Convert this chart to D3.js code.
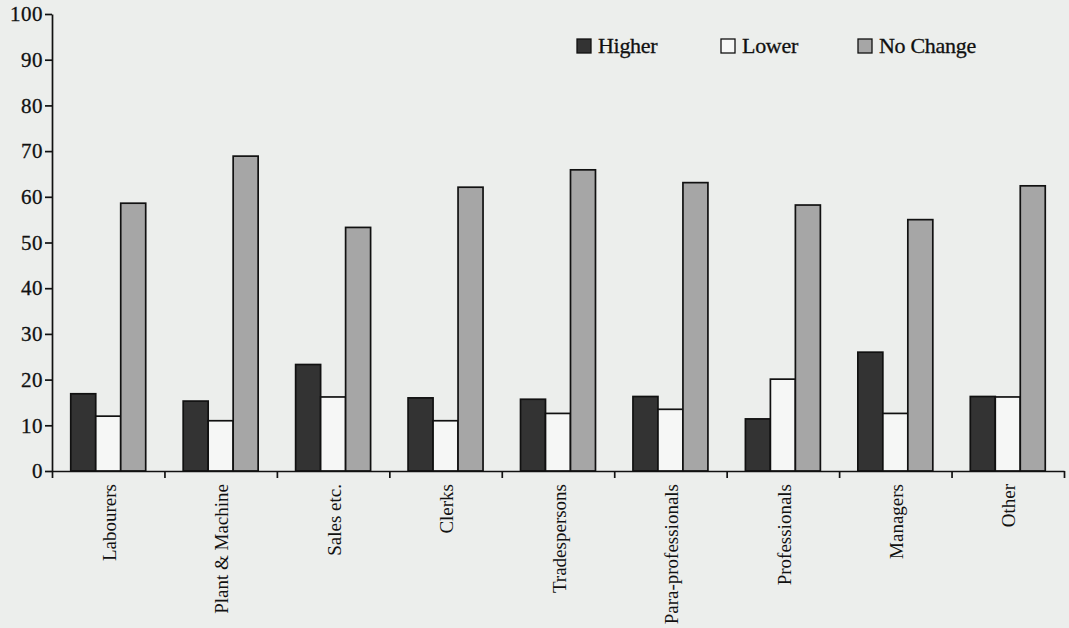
<!DOCTYPE html>
<html><head><meta charset="utf-8">
<script src="https://cdn.jsdelivr.net/npm/d3@7"></script>
<style>
html,body{margin:0;padding:0;background:#eceeec;}
svg{display:block;}
text{font-family:"Liberation Serif","Times New Roman",serif;fill:#111;}
</style></head><body>
<svg id="chart" width="1069" height="628"></svg>
<script>
const categories = ["Labourers","Plant & Machine","Sales etc.","Clerks","Tradespersons","Para-professionals","Professionals","Managers","Other"];
const series = ["Higher","Lower","No Change"];
const higher   = [16.9, 15.3, 23.3, 16.0, 15.7, 16.3, 11.4, 26.0, 16.3];
const lower    = [12.0, 11.0, 16.2, 11.0, 12.6, 13.5, 20.1, 12.6, 16.2];
const noChange = [58.6, 68.9, 53.3, 62.1, 65.9, 63.1, 58.2, 55.0, 62.4];
const yTicks = [0,10,20,30,40,50,60,70,80,90,100];
const colors = {"Higher":"#333333","Lower":"#f6f7f6","No Change":"#a6a6a6"};

const rows = categories.map((c,i)=>({cat:c, vals:[
  {key:"Higher", v:higher[i]},
  {key:"Lower", v:lower[i]},
  {key:"No Change", v:noChange[i]}
]}));

const svg = d3.select("#chart");
svg.append("rect").attr("width",1069).attr("height",628).attr("fill","#eceeec");

const mLeft = 52, mRight = 1064, mTop = 14, mBottom = 471;
const y = d3.scaleLinear().domain([0,100]).range([mBottom, mTop]);
const x0 = d3.scaleBand().domain(categories).range([mLeft, mRight]).paddingInner(0).paddingOuter(0);
const x1 = d3.scaleBand().domain(series).range([0, x0.bandwidth()]).paddingInner(0).paddingOuter(0.75);

// bars
const g = svg.append("g");
const grp = g.selectAll("g.cat").data(rows).join("g")
  .attr("transform", d=>`translate(${x0(d.cat)},0)`);
grp.selectAll("rect").data(d=>d.vals).join("rect")
  .attr("x", d=>x1(d.key))
  .attr("y", d=>y(d.v))
  .attr("width", x1.bandwidth())
  .attr("height", d=>y(0)-y(d.v))
  .attr("fill", d=>colors[d.key])
  .attr("stroke","#111")
  .attr("stroke-width",1.7);

// y axis
const yAxis = d3.axisLeft(y).tickValues(yTicks).tickSize(7).tickPadding(2).tickSizeOuter(0);
const ya = svg.append("g").attr("transform",`translate(${mLeft},0)`).call(yAxis);
ya.select(".domain").attr("stroke","#111").attr("stroke-width",1.7);
ya.selectAll(".tick line").attr("stroke","#111").attr("stroke-width",1.7);
ya.selectAll(".tick text").attr("font-size",21).attr("font-family","'Liberation Serif',serif")
  .attr("fill","#111").attr("stroke","#111").attr("stroke-width",0.3).attr("letter-spacing","0.5");

// x axis: ticks at category boundaries
const xi = d3.scaleLinear().domain([0, categories.length]).range([mLeft, mRight]);
const xAxis = d3.axisBottom(xi).tickValues(d3.range(0, categories.length+1)).tickFormat("").tickSize(7).tickSizeOuter(0);
const xa = svg.append("g").attr("transform",`translate(0,${mBottom})`).call(xAxis);
xa.select(".domain").attr("stroke","#111").attr("stroke-width",1.7);
xa.selectAll(".tick line").attr("stroke","#111").attr("stroke-width",1.7);

// x labels (rotated)
svg.append("g").selectAll("text").data(categories).join("text")
  .attr("transform", d=>`translate(${x0(d)+x0.bandwidth()/2+1},${mBottom+13}) rotate(-90)`)
  .attr("text-anchor","end")
  .attr("dy","0.35em")
  .attr("font-size",19)
  .text(d=>d);

// legend
const legendX = {"Higher":577, "Lower":721, "No Change":858};
const lg = svg.append("g");
series.forEach(s=>{
  lg.append("rect").attr("x",legendX[s]).attr("y",39).attr("width",14).attr("height",14)
    .attr("fill",colors[s]).attr("stroke","#111").attr("stroke-width",1.3);
  lg.append("text").attr("x",legendX[s]+21).attr("y",53).attr("font-size",22)
    .attr("stroke","#111").attr("stroke-width",0.3)
    .attr("letter-spacing","-0.3").text(s);
});
</script>
</body></html>
